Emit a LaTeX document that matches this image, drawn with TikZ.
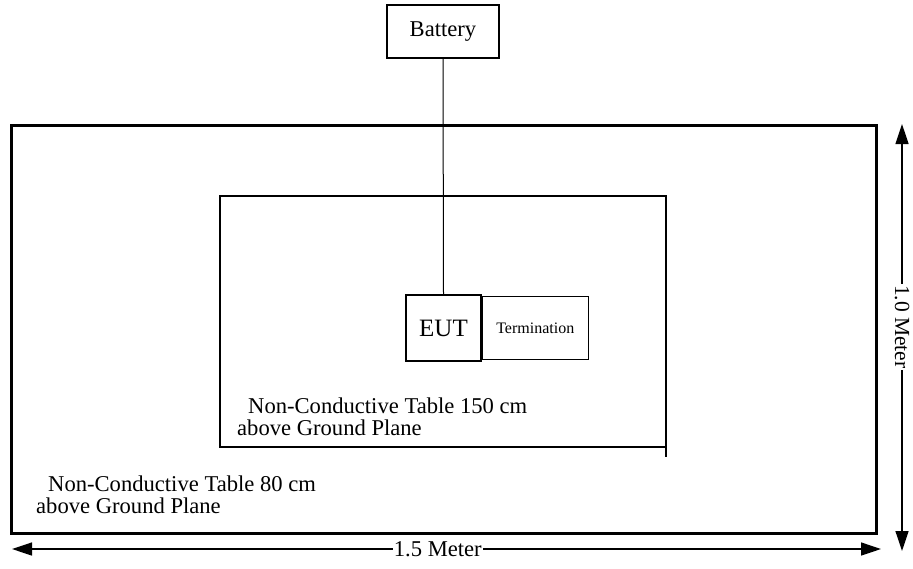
\documentclass[tikz,border=0pt]{standalone}
\usepackage{fontspec}
\setmainfont{Liberation Serif}
\usetikzlibrary{positioning,arrows.meta}

\begin{document}
\begin{tikzpicture}[x=1pt,y=-1pt,font=\fontsize{22.6}{22.6}\selectfont,
      box/.style={draw,line width=1.3pt,inner sep=0pt},
      lbl/.style={anchor=base west,inner sep=0pt},
      dim/.style={line width=1.3pt,{Triangle[length=20pt,width=13pt]}-{Triangle[length=20pt,width=13pt]}},
      dimlbl/.style={fill=white,inner sep=1pt}]
    \useasboundingbox (0,0) rectangle (913,568);
    % tables
    \draw[line width=3pt] (11,125) rectangle (876,533);
    \draw[line width=1.3pt] (220,196) rectangle (666,447);
    \draw[line width=1.3pt] (666,447) -- (666,457);
    % units
    \node[box,minimum width=112pt,minimum height=53pt] (battery) at (443,31.5) {Battery};
    \node[box,minimum width=75pt,minimum height=66pt,font=\fontsize{25}{25}\selectfont] (eut) at (443.5,328) {EUT};
    \node[box,minimum width=106pt,minimum height=63pt,font=\fontsize{16}{16}\selectfont,right=0pt of eut] (term) {Termination};
    \draw[line width=1pt] (battery.south) -- (eut.north);
    % labels
    \node[lbl] (inner1) at (248,413) {Non-Conductive Table 150 cm};
    \node[lbl] (inner2) at (237,435) {above Ground Plane};
    \node[lbl] (outer1) at (48,491) {Non-Conductive Table 80 cm};
    \node[lbl] (outer2) at (36,513) {above Ground Plane};
    % dimensions
    \coordinate (hl) at (12,549);
    \coordinate (hr) at (881,549);
    \draw[dim] (hl) -- (hr) node[dimlbl,pos=0.49] (width) {1.5 Meter};
    \coordinate (vt) at (902,124);
    \coordinate (vb) at (902,551);
    \draw[dim] (vt) -- (vb) node[dimlbl,rotate=-90,pos=0.475,font=\fontsize{21.5}{21.5}\selectfont] (depth) {1.0 Meter};
  \end{tikzpicture}
\end{document}
